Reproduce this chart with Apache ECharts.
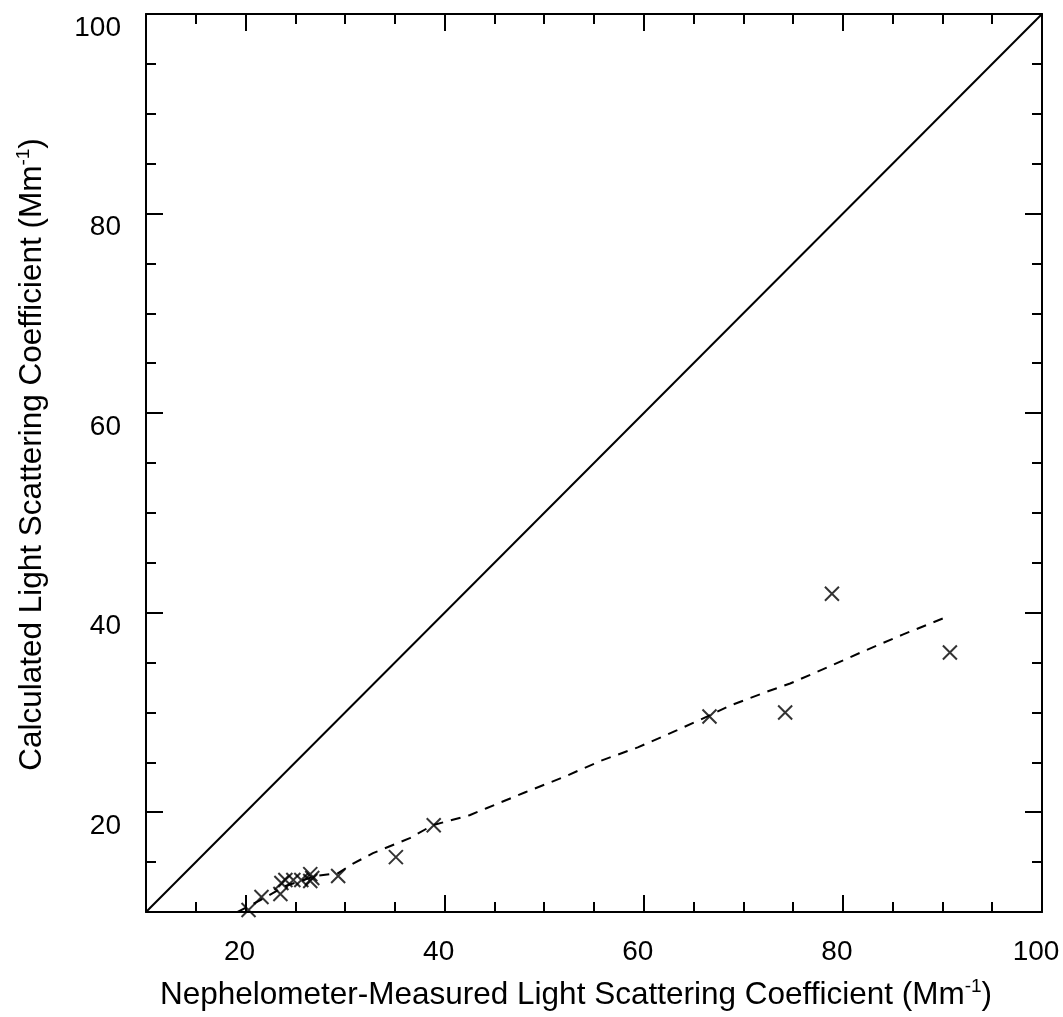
<!DOCTYPE html>
<html>
<head>
<meta charset="utf-8">
<script src="https://cdn.jsdelivr.net/npm/echarts@6/dist/echarts.min.js"></script>
<style>
html,body{margin:0;padding:0;background:#fff;}
#chart{width:1063px;height:1017px;}
</style>
</head>
<body>
<div id="chart"></div>
<script>
// Measured (x) vs calculated (y) light scattering coefficients, Mm^-1
const measuredX = [20.3, 21.6, 23.5, 23.6, 24.0, 24.8, 25.6, 26.5, 26.5, 26.7, 29.3, 35.1, 38.9, 66.6, 74.2, 78.9, 90.75];
const calculatedY = [10.2, 11.5, 11.8, 12.9, 13.2, 13.2, 13.2, 13.8, 13.1, 13.4, 13.6, 15.5, 18.7, 29.6, 30.0, 41.9, 36.0];
// Dashed fitted curve
const fitX = [19.2, 21.5, 24.0, 27.0, 29.3, 30.8, 32.8, 36.5, 38.8, 42.5, 44.2, 48.1, 51.9, 55.8, 59.4, 63.3, 66.4, 68.7, 72.7, 74.7, 78.4, 82.0, 86.0, 90.5];
const fitY = [10.0, 11.2, 12.6, 13.6, 13.9, 14.85, 15.9, 17.4, 18.7, 19.7, 20.4, 22.0, 23.5, 25.2, 26.5, 28.2, 29.6, 30.7, 32.2, 32.9, 34.5, 36.1, 37.8, 39.6];
// 1:1 line
const diagX = [10, 100];
const diagY = [10, 100];
// axes
const axisMin = 10, axisMax = 100;
const majorTicks = [20, 40, 60, 80, 100];
const xTitle = 'Nephelometer-Measured Light Scattering Coefficient (Mm';
const yTitle = 'Calculated Light Scattering Coefficient (Mm';

const FONT = '"Liberation Sans", Arial, Helvetica, sans-serif';
const lineStyle = {color: '#000', width: 2};
const rich = {
  a: {fontFamily: FONT, fontSize: 31.5, color: '#000'},
  sup: {fontFamily: FONT, fontSize: 19, color: '#000', padding: [0, 0, 18, 0]}
};

function majorAxis(pos, showLabel, extra) {
  return Object.assign({
    type: 'value', position: pos, min: axisMin, max: axisMax,
    axisLine: {show: true, onZero: false, lineStyle: lineStyle},
    axisTick: {show: true, inside: true, length: 17, customValues: majorTicks, lineStyle: lineStyle},
    axisLabel: showLabel ? {show: true, customValues: majorTicks, fontFamily: FONT, fontSize: 28, color: '#000'} : {show: false},
    splitLine: {show: false}
  }, extra || {});
}
function minorAxis(pos) {
  return {
    type: 'value', position: pos, min: axisMin, max: axisMax, interval: 5,
    axisLine: {show: false, onZero: false},
    axisTick: {show: true, inside: true, length: 10, lineStyle: lineStyle},
    axisLabel: {show: false},
    splitLine: {show: false}
  };
}

const chart = echarts.init(document.getElementById('chart'), null, {renderer: 'canvas'});
const xMain = majorAxis('bottom', true, {
  name: '{a|' + xTitle + '}{sup|-1}{a|)}',
  nameLocation: 'middle', nameGap: 65, nameMoveOverlap: false,
  nameTextStyle: {rich: rich, padding: [0, 36, 0, 0]}
});
xMain.axisLabel.margin = 26;
xMain.axisLabel.padding = [0, 12, 0, 0];
const yMain = majorAxis('left', true, {
  name: '{a|' + yTitle + '}{sup|-1}{a|)}',
  nameLocation: 'middle', nameGap: 95, nameRotate: 90, nameMoveOverlap: false,
  nameTextStyle: {rich: rich, padding: [0, 0, 0, 17]}
});
yMain.axisLabel.margin = 25;
yMain.axisLabel.verticalAlign = 'top';

chart.setOption({
  animation: false,
  backgroundColor: '#fff',
  grid: {left: 146, right: 21, top: 14, bottom: 105, outerBoundsMode: 'none', containLabel: false},
  xAxis: [xMain, minorAxis('bottom'), majorAxis('top', false), minorAxis('top')],
  yAxis: [yMain, minorAxis('left'), majorAxis('right', false), minorAxis('right')],
  series: [
    {
      type: 'line', xAxisIndex: 0, yAxisIndex: 0,
      data: diagX.map((x, i) => [x, diagY[i]]),
      symbol: 'none', lineStyle: {color: '#000', width: 2}, z: 2
    },
    {
      type: 'line', xAxisIndex: 0, yAxisIndex: 0,
      data: fitX.map((x, i) => [x, fitY[i]]),
      symbol: 'none', lineStyle: {color: '#000', width: 2, type: [10, 8]}, z: 2
    },
    {
      type: 'scatter', xAxisIndex: 0, yAxisIndex: 0,
      data: measuredX.map((x, i) => [x, calculatedY[i]]),
      symbol: 'path://M0,0L10,10M10,0L0,10', symbolSize: 14,
      itemStyle: {color: 'rgba(0,0,0,0)', borderColor: '#000', borderWidth: 2}, z: 3
    }
  ]
});
</script>
</body>
</html>
